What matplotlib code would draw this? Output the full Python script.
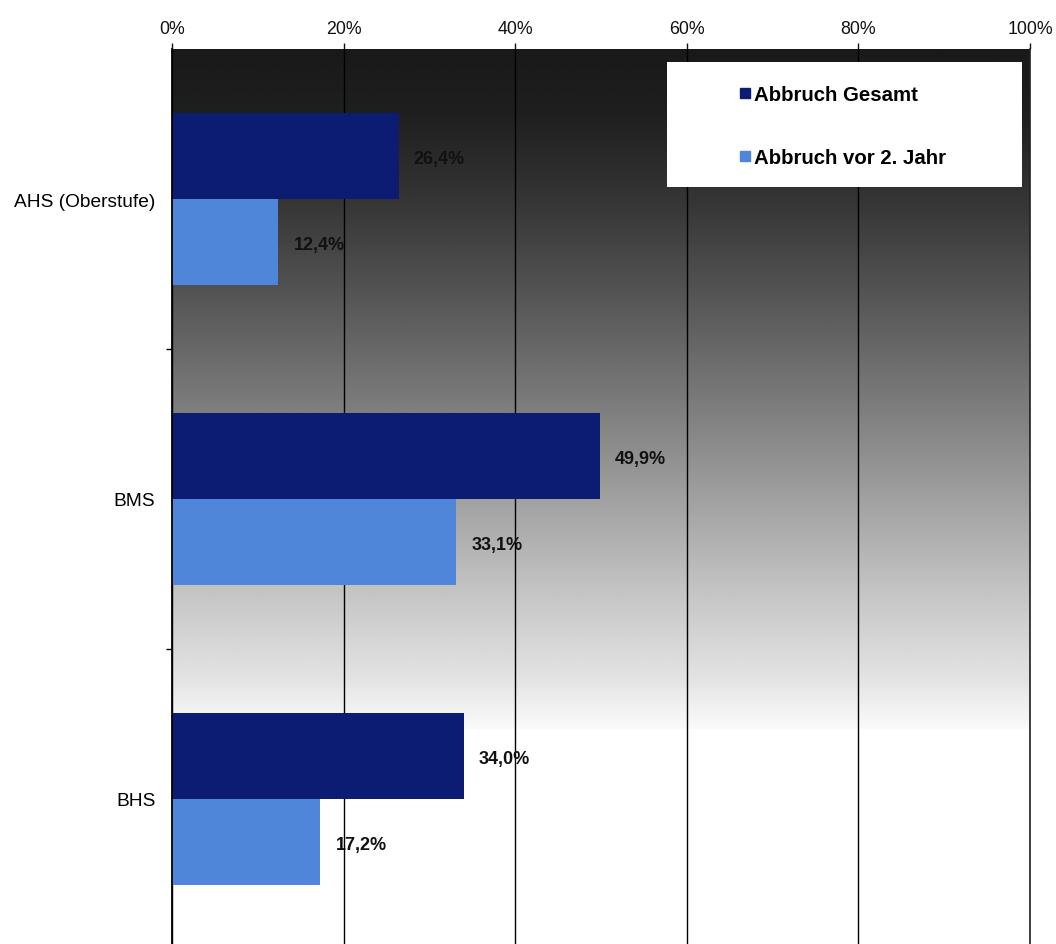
import numpy as np
import matplotlib
matplotlib.use("Agg")
import matplotlib.pyplot as plt
from matplotlib.lines import Line2D
from matplotlib.patches import Rectangle

plt.rcParams["font.family"] = ["Liberation Sans", "DejaVu Sans"]

categories = ["AHS (Oberstufe)", "BMS", "BHS"]
abbruch_gesamt = [26.4, 49.9, 34.0]
abbruch_vor_2 = [12.4, 33.1, 17.2]
series_names = ["Abbruch Gesamt", "Abbruch vor 2. Jahr"]
x_ticks = [0, 20, 40, 60, 80, 100]

DARK = "#0c1c72"
LIGHT = "#4f86da"


def fmt(v):
    return f"{v:.1f}".replace(".", ",") + "%"


fig = plt.figure(figsize=(10.56, 9.45), dpi=100)
ax = fig.add_axes([172 / 1056, (945 - 950) / 945, 858 / 1056, 900 / 945])

# grey gradient background (dark top -> white), ends ~py 730
stops_py = [48, 110, 200, 300, 400, 500, 600, 680, 730]
stops_v = [0.10, 0.12, 0.21, 0.34, 0.48, 0.63, 0.78, 0.89, 0.98]
y_bottom = (950 - 730) / 900
rows = np.linspace(48, 730, 300)
shade = np.interp(rows, stops_py, stops_v)
grad = np.repeat(shade[:, None], 2, axis=1)
ax.imshow(grad, cmap="gray", vmin=0, vmax=1, extent=[0, 1, y_bottom, 1],
          transform=ax.transAxes, aspect="auto", zorder=0, interpolation="bilinear")

y = np.arange(len(categories))
h = 0.287
ax.barh(y - h / 2, abbruch_gesamt, height=h, color=DARK, zorder=3)
ax.barh(y + h / 2, abbruch_vor_2, height=h, color=LIGHT, zorder=3)

for i in range(len(categories)):
    ax.annotate(fmt(abbruch_gesamt[i]), (abbruch_gesamt[i], y[i] - h / 2),
                xytext=(10.5, -1.5), textcoords="offset points", va="center",
                ha="left", fontsize=13, fontweight="bold", color="#111111", zorder=4)
    ax.annotate(fmt(abbruch_vor_2[i]), (abbruch_vor_2[i], y[i] + h / 2),
                xytext=(11.5, -1.5), textcoords="offset points", va="center",
                ha="left", fontsize=13, fontweight="bold", color="#111111", zorder=4)

ax.set_xlim(0, 100)
ax.set_ylim(2.5, -0.5)

ax.set_xticks(x_ticks)
ax.set_xticklabels([f"{t}%" for t in x_ticks])
ax.xaxis.tick_top()
ax.tick_params(axis="x", top=True, bottom=False, labeltop=True, labelbottom=False,
               length=4, width=1, pad=5, labelsize=12.8, colors="#111111")
ax.grid(axis="x", color="black", linewidth=1, zorder=1)
ax.set_axisbelow(True)

ax.set_yticks(y)
ax.set_yticklabels(categories)
ax.set_yticks([0.5, 1.5], minor=True)
ax.tick_params(axis="y", which="major", length=0, pad=12, labelsize=13.8)
ax.tick_params(axis="y", which="minor", length=4, width=1, direction="out")

for s in ["top", "bottom"]:
    ax.spines[s].set_visible(False)
ax.spines["left"].set_linewidth(1.3)
ax.spines["left"].set_zorder(5)
ax.spines["right"].set_linewidth(1.2)
ax.spines["right"].set_color("#222222")

# legend box
fig.patches.append(Rectangle((667 / 1056, (945 - 188) / 945), 355 / 1056, 125 / 945,
                             transform=fig.transFigure, facecolor="white",
                             edgecolor="none", zorder=2))
handles = [Line2D([], [], marker="s", linestyle="none", markersize=6.5, color=DARK),
           Line2D([], [], marker="s", linestyle="none", markersize=6.5, color=LIGHT)]
fig.legend(handles, series_names, loc="upper left",
           bbox_to_anchor=(731 / 1056, (945 - 78) / 945), frameon=False,
           prop={"weight": "bold", "size": 14.7}, handlelength=0.6, handletextpad=0.15,
           labelspacing=2.15, borderaxespad=0)

fig.savefig("out.png", dpi=100)
